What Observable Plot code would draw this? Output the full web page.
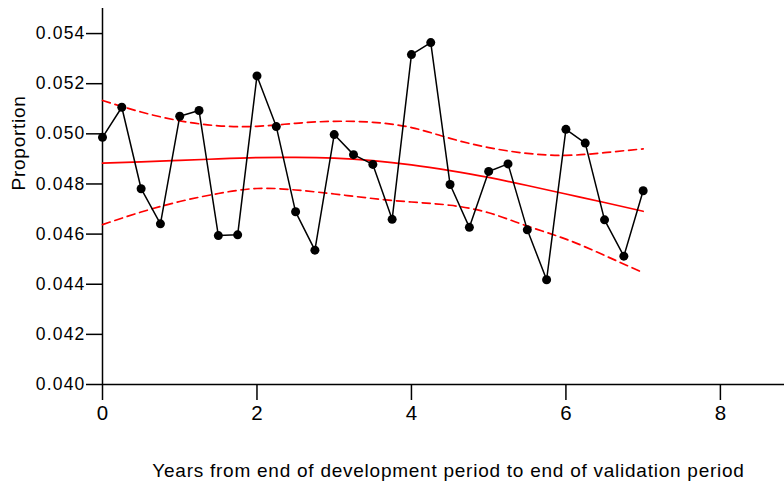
<!DOCTYPE html>
<html>
<head>
<meta charset="utf-8">
<script src="https://cdn.jsdelivr.net/npm/d3@7"></script>
<script src="https://cdn.jsdelivr.net/npm/@observablehq/plot@0.6"></script>
<style>
  html, body { margin: 0; padding: 0; background: white; }
</style>
</head>
<body>
<div id="chart"></div>
<script>
// Observed proportions (every quarter year)
const years = [0, 0.25, 0.5, 0.75, 1, 1.25, 1.5, 1.75, 2, 2.25, 2.5, 2.75, 3, 3.25, 3.5, 3.75,
               4, 4.25, 4.5, 4.75, 5, 5.25, 5.5, 5.75, 6, 6.25, 6.5, 6.75, 7];
const proportion = [0.04986, 0.05106, 0.04781, 0.04641, 0.05070, 0.05093, 0.04594, 0.04597,
                    0.05231, 0.05029, 0.04689, 0.04536, 0.04997, 0.04917, 0.04878, 0.04659,
                    0.05316, 0.05364, 0.04798, 0.04627, 0.04850, 0.04880, 0.04617, 0.04418,
                    0.05018, 0.04963, 0.04657, 0.04512, 0.04773];

// Smoothed fit and confidence band (every half year)
const fitYears = [0, 0.5, 1, 1.5, 2, 2.5, 3, 3.5, 4, 4.5, 5, 5.5, 6, 6.5, 7];
const fit   = [0.04883, 0.04888, 0.04894, 0.04900, 0.04905, 0.04906, 0.04903, 0.04893,
               0.04876, 0.04853, 0.04826, 0.04794, 0.04760, 0.04726, 0.04691];
const upper = [0.05133, 0.05087, 0.05052, 0.05032, 0.05030, 0.05042, 0.05050, 0.05046,
               0.05025, 0.04982, 0.04945, 0.04922, 0.04914, 0.04925, 0.04940];
const lower = [0.04638, 0.04688, 0.04730, 0.04762, 0.04782, 0.04776, 0.04760, 0.04742,
               0.04728, 0.04715, 0.04685, 0.04632, 0.04580, 0.04515, 0.04446];

const xTicks = [0, 2, 4, 6, 8];
const yTicks = [0.040, 0.042, 0.044, 0.046, 0.048, 0.050, 0.052, 0.054];
const xTitle = "Years from end of development period to end of validation period";
const yTitle = "Proportion";

const obs = years.map((x, i) => ({x, y: proportion[i]}));
const fitData = fitYears.map((x, i) => ({x, fit: fit[i], upper: upper[i], lower: lower[i]}));

const fontFamily = "'Liberation Sans', Arial, sans-serif";

const chart = Plot.plot({
  width: 784,
  height: 487,
  marginLeft: 102,
  marginRight: 0,
  marginTop: 8,
  marginBottom: 103,
  style: {fontFamily, fontSize: "17px", color: "black", background: "white", overflow: "visible"},
  x: {domain: [0, 8.83], label: null},
  y: {domain: [0.040, 0.055], label: null},
  marks: [
    Plot.axisX({ticks: xTicks, tickFormat: d => String(d), tickSize: 16, tickPadding: 5,
                strokeWidth: 1.5, label: null}),
    Plot.axisY({ticks: yTicks, tickFormat: d3.format(".3f"), tickSize: 16, tickPadding: 1,
                strokeWidth: 1.5, label: null}),
    Plot.ruleX([0], {stroke: "black", strokeWidth: 1.5}),
    Plot.ruleY([0.040], {stroke: "black", strokeWidth: 1.5}),
    Plot.line(fitData, {x: "x", y: "upper", stroke: "red", strokeWidth: 1.7,
                        strokeDasharray: "8,5", curve: "natural"}),
    Plot.line(fitData, {x: "x", y: "lower", stroke: "red", strokeWidth: 1.7,
                        strokeDasharray: "8,5", curve: "natural"}),
    Plot.line(fitData, {x: "x", y: "fit", stroke: "red", strokeWidth: 1.7, curve: "natural"}),
    Plot.line(obs, {x: "x", y: "y", stroke: "black", strokeWidth: 1.5}),
    Plot.dot(obs, {x: "x", y: "y", r: 4.5, fill: "black", stroke: "none"}),
    Plot.text([xTitle], {frameAnchor: "bottom", dy: 92, dx: 5, fontSize: 19, fill: "black"}),
    Plot.text([yTitle], {frameAnchor: "left", dx: -84, dy: -6, rotate: -90, fontSize: 19, fill: "black"})
  ]
});

document.getElementById("chart").appendChild(chart);
// font sizes / letter spacing to mimic the original's wide glyphs
chart.querySelectorAll("text").forEach(t => {
  const g = t.closest("g[aria-label]");
  const label = g ? g.getAttribute("aria-label") : "";
  if (/y-axis tick label/.test(label)) {
    t.setAttribute("font-size", "17.5");
    t.setAttribute("letter-spacing", "1.2");
  } else if (/x-axis tick label/.test(label)) {
    t.setAttribute("font-size", "20.5");
  } else if (t.textContent === xTitle || t.textContent === yTitle) {
    t.setAttribute("letter-spacing", "0.75");
  }
});
</script>
</body>
</html>
